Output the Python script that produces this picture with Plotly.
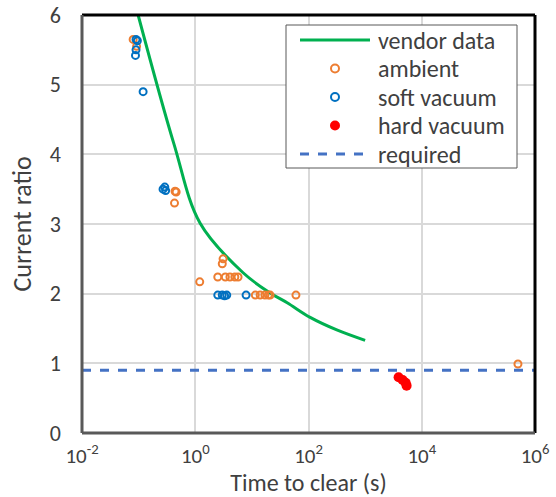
import plotly.graph_objects as go

# ---- data ----
vendor_t = [0.098, 0.42, 1.22, 7.0, 21, 42, 107, 316, 1000]
vendor_ratio = [6.0, 4.15, 3.01, 2.3, 2.01, 1.87, 1.66, 1.48, 1.33]

ambient_t = [0.08, 0.092, 0.46, 0.44, 0.43, 3.1, 3.0, 1.2, 2.5, 3.4, 4.1, 5.0, 5.7,
             11.5, 14, 17, 19.5, 21, 60, 5.0e5]
ambient_ratio = [5.65, 5.55, 3.46, 3.47, 3.30, 2.5, 2.43, 2.17, 2.24, 2.24, 2.24, 2.24, 2.24,
                 1.98, 1.98, 1.98, 1.98, 1.98, 1.98, 0.99]

soft_t = [0.09, 0.095, 0.09, 0.088, 0.12, 0.27, 0.29, 0.30, 2.5, 3.0, 3.3, 3.6, 7.9]
soft_ratio = [5.65, 5.63, 5.5, 5.42, 4.9, 3.5, 3.53, 3.48, 1.98, 1.98, 1.97, 1.98, 1.98]

hard_t = [3900, 4600, 5200, 5400]
hard_ratio = [0.80, 0.76, 0.72, 0.68]

required_t = [0.01, 1.0e6]
required_ratio = [0.9, 0.9]

x_ticks = [0.01, 1, 100, 1e4, 1e6]
x_ticktext = ["10<sup>-2</sup>", "10<sup>0</sup>", "10<sup>2</sup>", "10<sup>4</sup>", "10<sup>6</sup>"]
y_ticks = [0, 1, 2, 3, 4, 5, 6]

legend_names = ["vendor data", "ambient", "soft vacuum", "hard vacuum", "required"]

FONT = "Carlito, Calibri, Lato, sans-serif"
TXT = "#404040"
GREEN, ORANGE, BLUE, RED, DBLUE = "#00B050", "#ED7D31", "#0070C0", "#FF0000", "#4472C4"

fig = go.Figure()
fig.add_trace(go.Scatter(x=vendor_t, y=vendor_ratio, mode="lines", name=legend_names[0],
                         line=dict(color=GREEN, width=3, shape="spline", smoothing=1.0)))
fig.add_trace(go.Scatter(x=ambient_t, y=ambient_ratio, mode="markers", name=legend_names[1],
                         marker=dict(symbol="circle-open", size=7, color=ORANGE,
                                     line=dict(width=2, color=ORANGE))))
fig.add_trace(go.Scatter(x=soft_t, y=soft_ratio, mode="markers", name=legend_names[2],
                         marker=dict(symbol="circle-open", size=7, color=BLUE,
                                     line=dict(width=2, color=BLUE))))
fig.add_trace(go.Scatter(x=hard_t, y=hard_ratio, mode="markers", name=legend_names[3],
                         marker=dict(symbol="circle", size=10, color=RED)))
fig.add_trace(go.Scatter(x=required_t, y=required_ratio, mode="lines", name=legend_names[4],
                         line=dict(color=DBLUE, width=3, dash="dash")))

# ---- hand-drawn legend box (layout in plot-area pixel terms) ----
PL, PR, PT, PB = 82, 535, 15, 433
def px(x):
    return (x - PL) / (PR - PL)
def py(y):
    return (PB - y) / (PB - PT)

shapes = [
    dict(type="rect", xref="paper", yref="paper", x0=px(286), x1=px(517), y0=py(168), y1=py(25),
         fillcolor="white", line=dict(color="#595959", width=1), layer="above"),
]
annotations = []
row_y = [40, 68.5, 97, 125.5, 154]
kinds = ["line", "open", "open", "filled", "dash"]
colors = [GREEN, ORANGE, BLUE, RED, DBLUE]
for name, yy, kind, col in zip(legend_names, row_y, kinds, colors):
    if kind in ("line", "dash"):
        shapes.append(dict(type="line", xref="paper", yref="paper", x0=px(300), x1=px(370),
                           y0=py(yy), y1=py(yy), layer="above",
                           line=dict(color=col, width=3, dash="solid" if kind == "line" else "dash")))
    else:
        r = 4 if kind == "open" else 5
        shapes.append(dict(type="circle", xref="paper", yref="paper",
                           xsizemode="pixel", ysizemode="pixel",
                           xanchor=px(335), yanchor=py(yy), x0=-r, x1=r, y0=-r, y1=r,
                           layer="above",
                           fillcolor="white" if kind == "open" else col,
                           line=dict(color=col, width=2 if kind == "open" else 0)))
    annotations.append(dict(xref="paper", yref="paper", x=px(376), y=py(yy), text=name,
                            showarrow=False, xanchor="left", yanchor="middle",
                            font=dict(family=FONT, size=24, color=TXT)))

# plot frame
shapes += [
    dict(type="line", xref="paper", yref="paper", x0=0, x1=1, y0=1, y1=1,
         line=dict(color="black", width=3)),
    dict(type="line", xref="paper", yref="paper", x0=1, x1=1, y0=0, y1=1,
         line=dict(color="black", width=3)),
    dict(type="line", xref="paper", yref="paper", x0=0, x1=0, y0=0, y1=1,
         line=dict(color="#595959", width=3)),
    dict(type="line", xref="paper", yref="paper", x0=0, x1=1, y0=0, y1=0,
         line=dict(color="#595959", width=3)),
]

fig.update_layout(
    width=556, height=497, autosize=False,
    margin=dict(l=PL, r=556 - PR, t=PT, b=497 - PB),
    paper_bgcolor="white", plot_bgcolor="white",
    font=dict(family=FONT, size=22, color=TXT),
    showlegend=False,
    xaxis=dict(type="log", range=[-2, 6], tickvals=x_ticks, ticktext=x_ticktext,
               tickfont=dict(family=FONT, size=21, color=TXT), automargin=False,
               showgrid=True, gridcolor="#D9D9D9", gridwidth=1.5,
               showline=False, zeroline=False, ticks="", ticklabelstandoff=8,
               title=dict(text="Time to clear (s)", standoff=8,
                          font=dict(family=FONT, size=24, color=TXT))),
    yaxis=dict(range=[0, 6], tickvals=y_ticks, automargin=False,
               tickfont=dict(family=FONT, size=22, color=TXT),
               showgrid=True, gridcolor="#D9D9D9", gridwidth=1.5,
               showline=False, zeroline=False, ticks="", ticklabelstandoff=20,
               title=dict(text="Current ratio", standoff=10,
                          font=dict(family=FONT, size=26, color=TXT))),
    shapes=shapes,
    annotations=annotations,
)

fig.write_html("out.html")
